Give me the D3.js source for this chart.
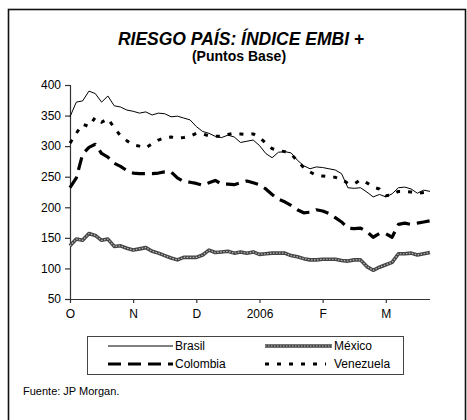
<!DOCTYPE html>
<html>
<head>
<meta charset="utf-8">
<script src="https://cdn.jsdelivr.net/npm/d3@7"></script>
<style>
  body { margin: 0; background: #fff; }
  text { font-family: "Liberation Sans", Arial, sans-serif; fill: #000; }
</style>
</head>
<body>
<div id="chart"></div>
<script>
// month labels, one tick every 10 observations
const monthLabels = ["O", "N", "D", "2006", "F", "M"];
const monthTicks = [0, 10, 20, 30, 40, 50];
const yTicks = [50, 100, 150, 200, 250, 300, 350, 400];

const brasil = [348, 372, 374, 390, 386, 372, 382, 366, 364, 359, 357, 354, 356, 351, 354, 353, 348, 349, 346, 343,
  332, 324, 321, 316, 314, 318, 315, 306, 308, 310, 301, 288, 281, 290, 291, 289, 277, 268, 263, 266,
  265, 263, 261, 255, 232, 231, 232, 225, 217, 221, 217, 222, 232, 233, 230, 223, 228, 226];
const mexico = [137, 148, 146, 157, 154, 146, 148, 136, 137, 133, 130, 132, 134, 128, 125, 121, 117, 114, 118, 118,
  118, 122, 130, 126, 127, 128, 125, 127, 125, 127, 123, 124, 125, 125, 125, 121, 119, 116, 114, 114,
  115, 115, 115, 113, 112, 114, 114, 103, 97, 102, 106, 110, 124, 124, 125, 122, 124, 126];
const colombia = [232, 248, 287, 298, 303, 288, 282, 272, 267, 260, 256, 255, 255, 255, 256, 258, 258, 248, 242, 241,
  239, 236, 240, 244, 238, 238, 237, 240, 243, 240, 237, 230, 221, 213, 209, 203, 196, 191, 192, 196,
  194, 190, 183, 176, 166, 165, 166, 160, 151, 157, 157, 151, 172, 174, 172, 174, 176, 178];
const venezuela = [305, 321, 336, 332, 347, 339, 345, 330, 317, 309, 302, 300, 297, 304, 310, 314, 315, 313, 314, 316,
  321, 320, 317, 316, 316, 319, 321, 320, 319, 320, 314, 305, 296, 293, 291, 287, 276, 265, 258, 252,
  251, 250, 249, 246, 239, 238, 245, 240, 233, 230, 219, 220, 226, 226, 225, 223, 224, 225];

const width = 467;
const height = 420;

const svg = d3.select("#chart").append("svg")
  .attr("width", width)
  .attr("height", height);

// outer frame
svg.append("rect")
  .attr("x", 8.5).attr("y", 9.5)
  .attr("width", 457).attr("height", 420)
  .attr("fill", "none")
  .attr("stroke", "#111")
  .attr("stroke-width", 1.6);

svg.append("text")
  .attr("x", 241).attr("y", 45)
  .attr("text-anchor", "middle")
  .style("font-size", "17.5px")
  .style("font-weight", "bold")
  .style("font-style", "italic")
  .text("RIESGO PAÍS: ÍNDICE EMBI +");

svg.append("text")
  .attr("x", 239).attr("y", 61)
  .attr("text-anchor", "middle")
  .style("font-size", "14px")
  .style("font-weight", "bold")
  .text("(Puntos Base)");

const x = d3.scaleLinear().domain([0, brasil.length - 1]).range([70, 430]);
const y = d3.scaleLinear().domain([50, 400]).range([299, 85]);

// y axis
const yAxis = svg.append("g")
  .attr("transform", "translate(70,0)")
  .call(d3.axisLeft(y).tickValues(yTicks).tickSize(5).tickPadding(4));
yAxis.selectAll("text").style("font-size", "12px");

// x axis
const xAxis = svg.append("g")
  .attr("transform", "translate(0,299)")
  .call(d3.axisBottom(x).tickValues(monthTicks).tickSize(4).tickPadding(6)
    .tickFormat((d, i) => monthLabels[i]));
xAxis.selectAll("text").style("font-size", "12px");
// the x domain line runs past the last tick
xAxis.select(".domain").attr("d", `M70,0.5H430`);

svg.selectAll(".domain, .tick line").attr("stroke", "#333").attr("stroke-width", 1.2);

const line = d3.line()
  .x((d, i) => x(i))
  .y(d => y(d));

const series = [
  { name: "Brasil", values: brasil, stroke: "#000", width: 1, dash: null },
  { name: "México", values: mexico, stroke: "#444", width: 3.6, dash: null },
  { name: "Colombia", values: colombia, stroke: "#000", width: 3.2, dash: "13,7" },
  { name: "Venezuela", values: venezuela, stroke: "#000", width: 3, dash: "4,8" }
];

svg.selectAll("path.series")
  .data(series)
  .enter()
  .append("path")
  .attr("class", "series")
  .attr("d", d => line(d.values))
  .attr("fill", "none")
  .attr("stroke", d => d.stroke)
  .attr("stroke-width", d => d.width)
  .attr("stroke-dasharray", d => d.dash)
  .attr("stroke-linejoin", "round");

// speckled texture on the México line
svg.append("path")
  .attr("d", line(mexico))
  .attr("fill", "none")
  .attr("stroke", "#bbb")
  .attr("stroke-width", 1.2)
  .attr("stroke-dasharray", "1.5,1.5");

// legend
svg.append("rect")
  .attr("x", 87.5).attr("y", 336.5)
  .attr("width", 316).attr("height", 38)
  .attr("fill", "none")
  .attr("stroke", "#444")
  .attr("stroke-width", 1);

const legendPos = [
  { x1: 108, x2: 173, ty: 346 },
  { x1: 265, x2: 332, ty: 346 },
  { x1: 108, x2: 173, ty: 364 },
  { x1: 265, x2: 326, ty: 364 }
];

const legend = svg.selectAll("g.legend")
  .data(series)
  .enter()
  .append("g")
  .attr("class", "legend");

legend.append("line")
  .attr("x1", (d, i) => legendPos[i].x1)
  .attr("x2", (d, i) => legendPos[i].x2)
  .attr("y1", (d, i) => legendPos[i].ty)
  .attr("y2", (d, i) => legendPos[i].ty)
  .attr("stroke", d => d.stroke)
  .attr("stroke-width", d => d.width)
  .attr("stroke-dasharray", d => d.dash);

svg.append("line")
  .attr("x1", 265).attr("x2", 332).attr("y1", 346).attr("y2", 346)
  .attr("stroke", "#bbb").attr("stroke-width", 1.2).attr("stroke-dasharray", "1.5,1.5");

legend.append("text")
  .attr("x", (d, i) => legendPos[i].x2 + (i === 3 ? 8 : 2))
  .attr("y", (d, i) => legendPos[i].ty + 4)
  .style("font-size", "12px")
  .text(d => d.name);

svg.append("text")
  .attr("x", 23).attr("y", 395)
  .style("font-size", "11px")
  .text("Fuente: JP Morgan.");
</script>
</body>
</html>
